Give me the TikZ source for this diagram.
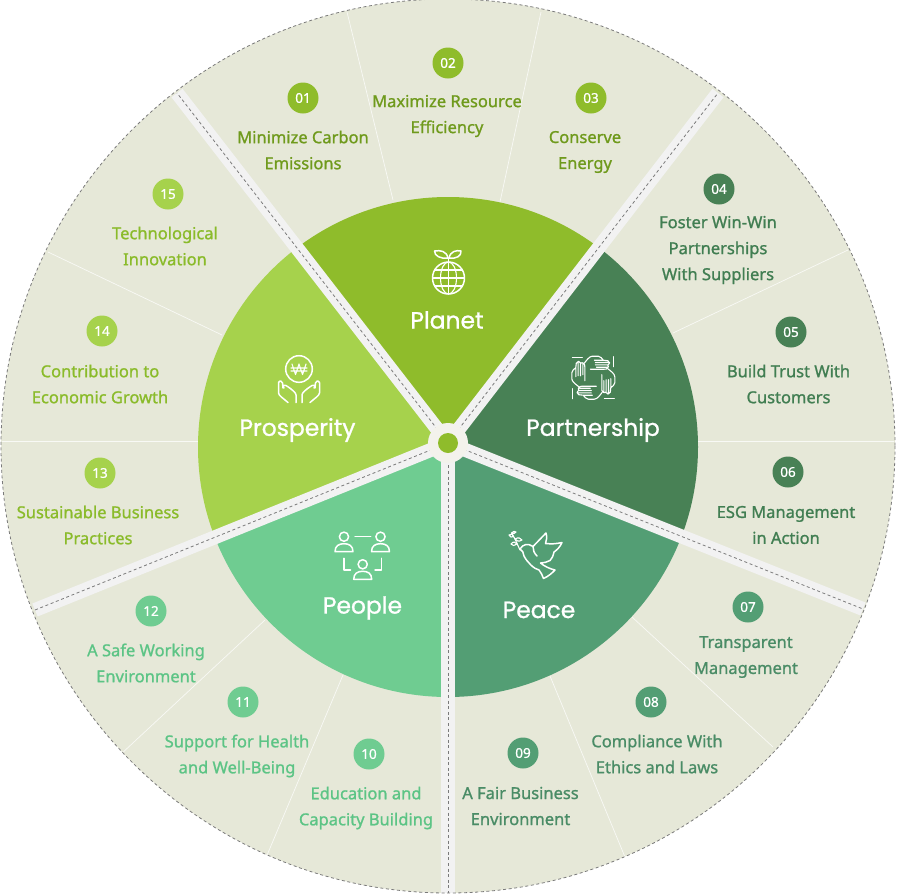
\documentclass[tikz,border=0pt]{standalone}
\usepackage{fontspec}
\usetikzlibrary{calc}
\setmainfont[RawFeature={embolden=1.1}]{Noto Sans}
\newfontfamily\bigfont[RawFeature={embolden=1.0}]{Poppins}
\newfontfamily\numfont[RawFeature={embolden=0.8}]{Noto Sans}
\definecolor{cplanet}{HTML}{8FBC2B}
\definecolor{cpartner}{HTML}{488155}
\definecolor{cpeace}{HTML}{539E74}
\definecolor{cpeople}{HTML}{6FCC91}
\definecolor{cprosper}{HTML}{A6D24C}
\definecolor{tplanet}{HTML}{6F9A1C}
\definecolor{tpartner}{HTML}{417E52}
\definecolor{tpeace}{HTML}{4A8C66}
\definecolor{tpeople}{HTML}{5CC485}
\definecolor{tprosper}{HTML}{8ABB2A}
\definecolor{ringbg}{HTML}{E6E8D8}
\definecolor{bandc}{HTML}{F2F2F2}
\definecolor{hubc}{HTML}{F3F2EC}
\definecolor{dashc}{HTML}{7A7A7A}
\tikzset{
  x=1pt,y=-1pt,
  badge/.style={circle,minimum size=31pt,inner sep=0pt,text=white,font=\numfont\fontsize{13.5}{13.5}\selectfont},
  lbl/.style={align=center,inner sep=0pt,font=\fontsize{16.5}{26}\selectfont},
  biglbl/.style={inner sep=0pt,text=white,font=\bigfont\fontsize{23.4}{26}\selectfont},
  divider/.style={draw=white,line width=0.7pt,opacity=.75},
  band/.style={draw=bandc,line width=14pt},
  dashline/.style={draw=dashc,line width=0.8pt,dash pattern=on 3pt off 2.6pt},
  icon/.style={draw=white,line width=1.5pt,line cap=round,line join=round,fill=none},
  iconthin/.style={draw=white,line width=1.1pt,line cap=round,line join=round,fill=none}
}
\begin{document}
\begin{tikzpicture}
\useasboundingbox (0,0) rectangle (898,895);
\coordinate (C) at (448,446);
\coordinate (D) at (448,447);
\coordinate (H) at (448,443);
\coordinate (S1) at (718,93);
\coordinate (S2) at (177,93);
\coordinate (S3) at (35,610);
\coordinate (S4) at (448,893);
\coordinate (S5) at (863,609);
% outer ring
\fill[ringbg] (C) circle[radius=447];
% ring dividers
\draw[divider] (393,200) -- (347,12);
\draw[divider] (500,202) -- (541,12);
\draw[divider] (673,333) -- (848,250);
\draw[divider] (697,441) -- (894,441);
\draw[divider] (632,617) -- (773,747);
\draw[divider] (550,676) -- (625,857);
\draw[divider] (343,675) -- (265,860);
\draw[divider] (265,620) -- (120,755);
\draw[divider] (198,441) -- (2,441);
\draw[divider] (222,335) -- (48,252);
% sectors
\begin{scope}
\clip (D) circle[radius=250];
\fill[cplanet] (H) -- ($(H)!3!(S1)$) -- ($(H)!3!(S2)$) -- cycle;
\fill[cpartner] (H) -- ($(H)!3!(S1)$) -- ($(H)!3!(S5)$) -- cycle;
\fill[cpeace] (H) -- ($(H)!3!(S5)$) -- ($(H)!3!(S4)$) -- cycle;
\fill[cpeople] (H) -- ($(H)!3!(S4)$) -- ($(H)!3!(S3)$) -- cycle;
\fill[cprosper] (H) -- ($(H)!3!(S3)$) -- ($(H)!3!(S2)$) -- cycle;
\end{scope}
% bands
\begin{scope}
\clip (C) circle[radius=447];
\foreach \s in {S1,S2,S3,S4,S5} \draw[band] (H) -- (\s);
\end{scope}
\foreach \s in {S1,S2,S3,S4,S5} \draw[dashline] (H) -- (\s);
\draw[dashline] (C) circle[radius=447];
% hub
\fill[hubc] (H) circle[radius=20];
\fill[cplanet] (H) circle[radius=10];
% big labels
\node[biglbl] (nplanet) at (447,320) {Planet};
\node[biglbl] (npartner) at (593,430) {Partnership};
\node[biglbl] (npeace) at (539,610) {Peace};
\node[biglbl] (npeople) at (362.5,608) {People};
\node[biglbl] (nprosper) at (297.5,430) {Prosperity};
% badges
\foreach \n/\t/\x/\y/\c in {
 b1/01/303/98/cplanet,b2/02/448/63/cplanet,b3/03/591/98/cplanet,
 b4/04/719/189/cpartner,b5/05/791/332/cpartner,b6/06/788/472/cpartner,
 b7/07/748/607/cpeace,b8/08/651/702/cpeace,b9/09/523/753/cpeace,
 b10/10/369/754/cpeople,b11/11/243/702/cpeople,b12/12/151/611/cpeople,
 b13/13/100/473/cprosper,b14/14/102/331/cprosper,b15/15/168/194/cprosper}
 \node[badge,fill=\c] (\n) at (\x,\y) {\t};
% labels
\node[lbl,text=tplanet] (l1) at (303,150) {Minimize Carbon\\Emissions};
\node[lbl,text=tplanet] (l2) at (447,116) {Maximize Resource\\Efficiency};
\node[lbl,text=tplanet] (l3) at (585,152) {Conserve\\Energy};
\node[lbl,text=tpartner] (l4) at (718,250) {Foster Win-Win\\Partnerships\\With Suppliers};
\node[lbl,text=tpartner] (l5) at (788.5,384) {Build Trust With\\Customers};
\node[lbl,text=tpartner] (l6) at (786,525) {ESG Management\\in Action};
\node[lbl,text=tpeace] (l7) at (746,657) {Transparent\\Management};
\node[lbl,text=tpeace] (l8) at (657,754) {Compliance With\\Ethics and Laws};
\node[lbl,text=tpeace] (l9) at (520.5,806) {A Fair Business\\Environment};
\node[lbl,text=tpeople] (l10) at (366,808) {Education and\\Capacity Building};
\node[lbl,text=tpeople] (l11) at (237,756) {Support for Health\\and Well-Being};
\node[lbl,text=tpeople] (l12) at (146,663) {A Safe Working\\Environment};
\node[lbl,text=tprosper] (l13) at (98,525) {Sustainable Business\\Practices};
\node[lbl,text=tprosper] (l14) at (100,384) {Contribution to\\Economic Growth};
\node[lbl,text=tprosper] (l15) at (165,246) {Technological\\Innovation};
% icon: globe with sprout
\begin{scope}[shift={(448.5,278)}]
\draw[icon] (0,0) circle[radius=16];
\draw[iconthin] (0,0) ellipse[x radius=8,y radius=16];
\draw[iconthin] (0,-16) -- (0,16) (-16,0) -- (16,0) (-14,-8) -- (14,-8) (-14,8) -- (14,8);
\draw[icon] (0,-16) -- (0,-20);
\draw[icon] (-0.5,-20) .. controls (-2,-27) and (-8,-28) .. (-14,-27) .. controls (-14,-22) and (-8,-19) .. (-0.5,-20);
\draw[icon] (0.5,-20) .. controls (2,-27) and (8,-28) .. (12.5,-27) .. controls (13,-22) and (8,-19) .. (0.5,-20);
\end{scope}
% icon: four hands
\begin{scope}[shift={(593.3,377.7)}]
\foreach \a in {0,90,180,270}{
\begin{scope}[rotate=\a]
\draw[iconthin] (-21,-20.5) -- (-11,-20.5);
\draw[iconthin] (-9,-14.5) .. controls (-7,-17) and (-4,-21.5) .. (-1,-21.5) -- (5,-21.5) .. controls (7,-21.5) and (9,-19) .. (10,-17.5)
  -- (14.5,-17) .. controls (17,-16.5) and (17,-13) .. (14.5,-12.5)
  .. controls (16,-11) and (14,-8) .. (11,-8.5) -- (-3,-8.5)
  (1,-17.5) -- (10,-17.5) (2,-15.2) -- (15.5,-15.2) (2,-12.8) -- (14.5,-12.8) (3,-10.5) -- (14,-10.5);
\end{scope}}
\end{scope}
% icon: won coin with hands
\begin{scope}[shift={(299,369)}]
\draw[icon] (0,0) circle[radius=13.3];
\draw[iconthin] (-7,-5) -- (-3.5,5.5) -- (0,-5) -- (3.5,5.5) -- (7,-5) (-8,-1) -- (8,-1) (-8,2) -- (8,2);
\foreach \m in {1,-1}{
\begin{scope}[xscale=\m]
\draw[icon] (-3,33.5) -- (-3,26) .. controls (-3,24) and (-6,21) .. (-13,16.5) .. controls (-15,15) and (-17,17) .. (-15,19)
   (-11,33.5) .. controls (-16,29) and (-20,27) .. (-20.5,24) -- (-20.5,13.5) .. controls (-19,11) and (-17,12) .. (-16.5,14) -- (-16,19);
\end{scope}}
\end{scope}
% icon: people
\begin{scope}
\foreach \x/\y in {344/536.7,380.5/536.7,362.7/564.3}{
\draw[icon] (\x,\y) circle[radius=4.6];
\draw[icon] (\x-9,\y+15) .. controls (\x-9,\y+9) and (\x-5,\y+7) .. (\x,\y+7) .. controls (\x+5,\y+7) and (\x+9,\y+9) .. (\x+9,\y+15) -- cycle;
}
\draw[icon] (355,536.7) -- (370.7,536.7);
\draw[icon] (344,558.3) -- (344,570) -- (350.5,570);
\draw[icon] (381.7,558.3) -- (381.7,570) -- (375,570);
\end{scope}
% icon: dove
\draw[icon] (520,549) .. controls (523,544) and (528,543) .. (533,546.5) -- (546,533) .. controls (547,537) and (547,540) .. (545.5,543.5)
  .. controls (551,544) and (556,544) .. (562,542.5) .. controls (560,547) and (557,550) .. (554,552) .. controls (553,556) and (552,559) .. (550,560.5)
  .. controls (547,562) and (544,563) .. (540.5,563) .. controls (544,566) and (550,569) .. (555,570)
  .. controls (552,573) and (549,576) .. (543.5,578.5) .. controls (542,575) and (541,572) .. (539,570)
  .. controls (534,569) and (527,562) .. (524,556) .. controls (523,553) and (523,550) .. (520,549);
\draw[icon] (533,546.5) .. controls (533,550) and (534,553) .. (537,556);
\draw[iconthin] (520,550) -- (515,539) -- (511.5,533);
\draw[iconthin] (517,544) .. controls (515,546) and (512,546) .. (511,544) .. controls (513,541) and (516,542) .. (517,544);
\draw[iconthin] (515,539) .. controls (518,537) and (521,538) .. (522,540) .. controls (519,542) and (516,541) .. (515,539);
\draw[iconthin] (513.5,536.5) .. controls (512,538) and (510,537) .. (509,535) .. controls (511,533) and (513,534) .. (513.5,536.5);
\draw[iconthin] (511.5,533) .. controls (513,531) and (515,531) .. (516,532) .. controls (515,534) and (513,534) .. (511.5,533);
\end{tikzpicture}
\end{document}
